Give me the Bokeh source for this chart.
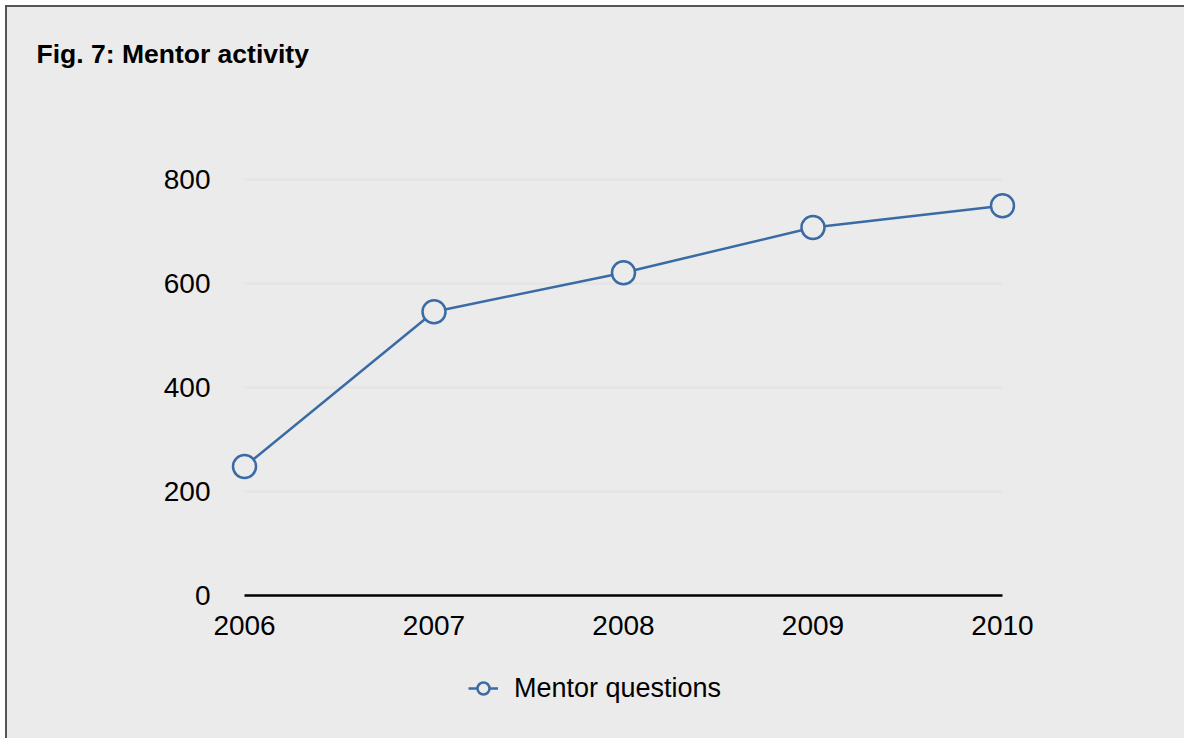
from bokeh.plotting import figure
from bokeh.layouts import column
from bokeh.models import Legend, LegendItem, FixedTicker, Range1d, Label, Grid
from bokeh.embed import file_html
from bokeh.resources import INLINE

# Mentor questions per year
years = [2006, 2007, 2008, 2009, 2010]
questions = [248, 546, 621, 708, 750]
y_ticks = [0, 200, 400, 600, 800]

BG = "#ebebeb"
BLUE = "#3b6ba5"
FONT = "Liberation Sans"
W = 1177

# small padding around the data span so end markers and the top grid line show
pad = 0.074
ypad = 10


def bare(height):
    f = figure(width=W, height=height, output_backend="svg", toolbar_location=None,
               x_axis_location=None, y_axis_location=None,
               x_range=Range1d(0, 1), y_range=Range1d(0, 1), min_border=0)
    f.background_fill_color = BG
    f.border_fill_color = BG
    f.outline_line_color = None
    f.grid.visible = False
    f.frame_align = False
    return f


# --- heading -------------------------------------------------------------
head = bare(93)
head.add_layout(Label(
    x=29, y=47, x_units="screen", y_units="screen",
    text="Fig. 7: Mentor activity",
    text_font=FONT, text_font_size="26.5px", text_font_style="bold",
    text_color="#000000", text_baseline="alphabetic",
))

# --- main chart ----------------------------------------------------------
p = figure(
    width=W, height=560,
    output_backend="svg", toolbar_location=None,
    x_range=Range1d(years[0] - pad, years[-1] + pad),
    y_range=Range1d(0, y_ticks[-1] + ypad),
    min_border_left=223, min_border_right=168,
    min_border_top=74, min_border_bottom=65,
)
p.frame_align = False
p.background_fill_color = BG
p.border_fill_color = BG
p.outline_line_color = None

p.xaxis.ticker = FixedTicker(ticks=years)
p.yaxis.ticker = FixedTicker(ticks=y_ticks)
for ax in (p.xaxis, p.yaxis):
    ax.major_tick_line_color = None
    ax.minor_tick_line_color = None
    ax.major_label_text_font = FONT
    ax.major_label_text_font_size = "28px"
    ax.major_label_text_color = "#000000"
p.xaxis.bounds = (years[0], years[-1])
p.xaxis.axis_line_color = "#000000"
p.xaxis.axis_line_width = 2.5
p.xaxis.major_label_standoff = 14
p.yaxis.axis_line_color = None
p.yaxis.major_label_standoff = 14

p.xgrid.grid_line_color = None
p.ygrid.grid_line_color = "#e3e3e3"
p.ygrid.grid_line_width = 2
if "cross_bounds" in Grid.properties():
    p.ygrid.cross_bounds = (years[0], years[-1])

p.line(years, questions, line_color=BLUE, line_width=2.5)
p.scatter(years, questions, size=23, fill_color=BG, line_color=BLUE, line_width=2.5)

# --- legend strip (series glyphs fall outside this strip's ranges) --------
leg = bare(78)
l_line = leg.line(years, questions, line_color=BLUE, line_width=2.5)
l_pts = leg.scatter(years, questions, size=23, fill_color=BG,
                    line_color=BLUE, line_width=2.5)
legend = Legend(
    items=[LegendItem(label="Mentor questions", renderers=[l_line, l_pts])],
    location=(461, 34),
    orientation="horizontal",
    background_fill_alpha=0, border_line_color=None,
    padding=0, margin=0, spacing=0,
    glyph_width=30, glyph_height=32, label_height=32,
    label_standoff=16,
    label_text_font=FONT, label_text_font_size="27px", label_text_color="#000000",
)
leg.add_layout(legend, "center")

page = column(head, p, leg, spacing=0)
page.styles = {
    "margin-left": "5px", "margin-top": "5px",
    "border-left": "2px solid #555555", "border-top": "2px solid #555555",
    "background-color": BG,
}

open("out.html", "w").write(file_html(page, INLINE))
